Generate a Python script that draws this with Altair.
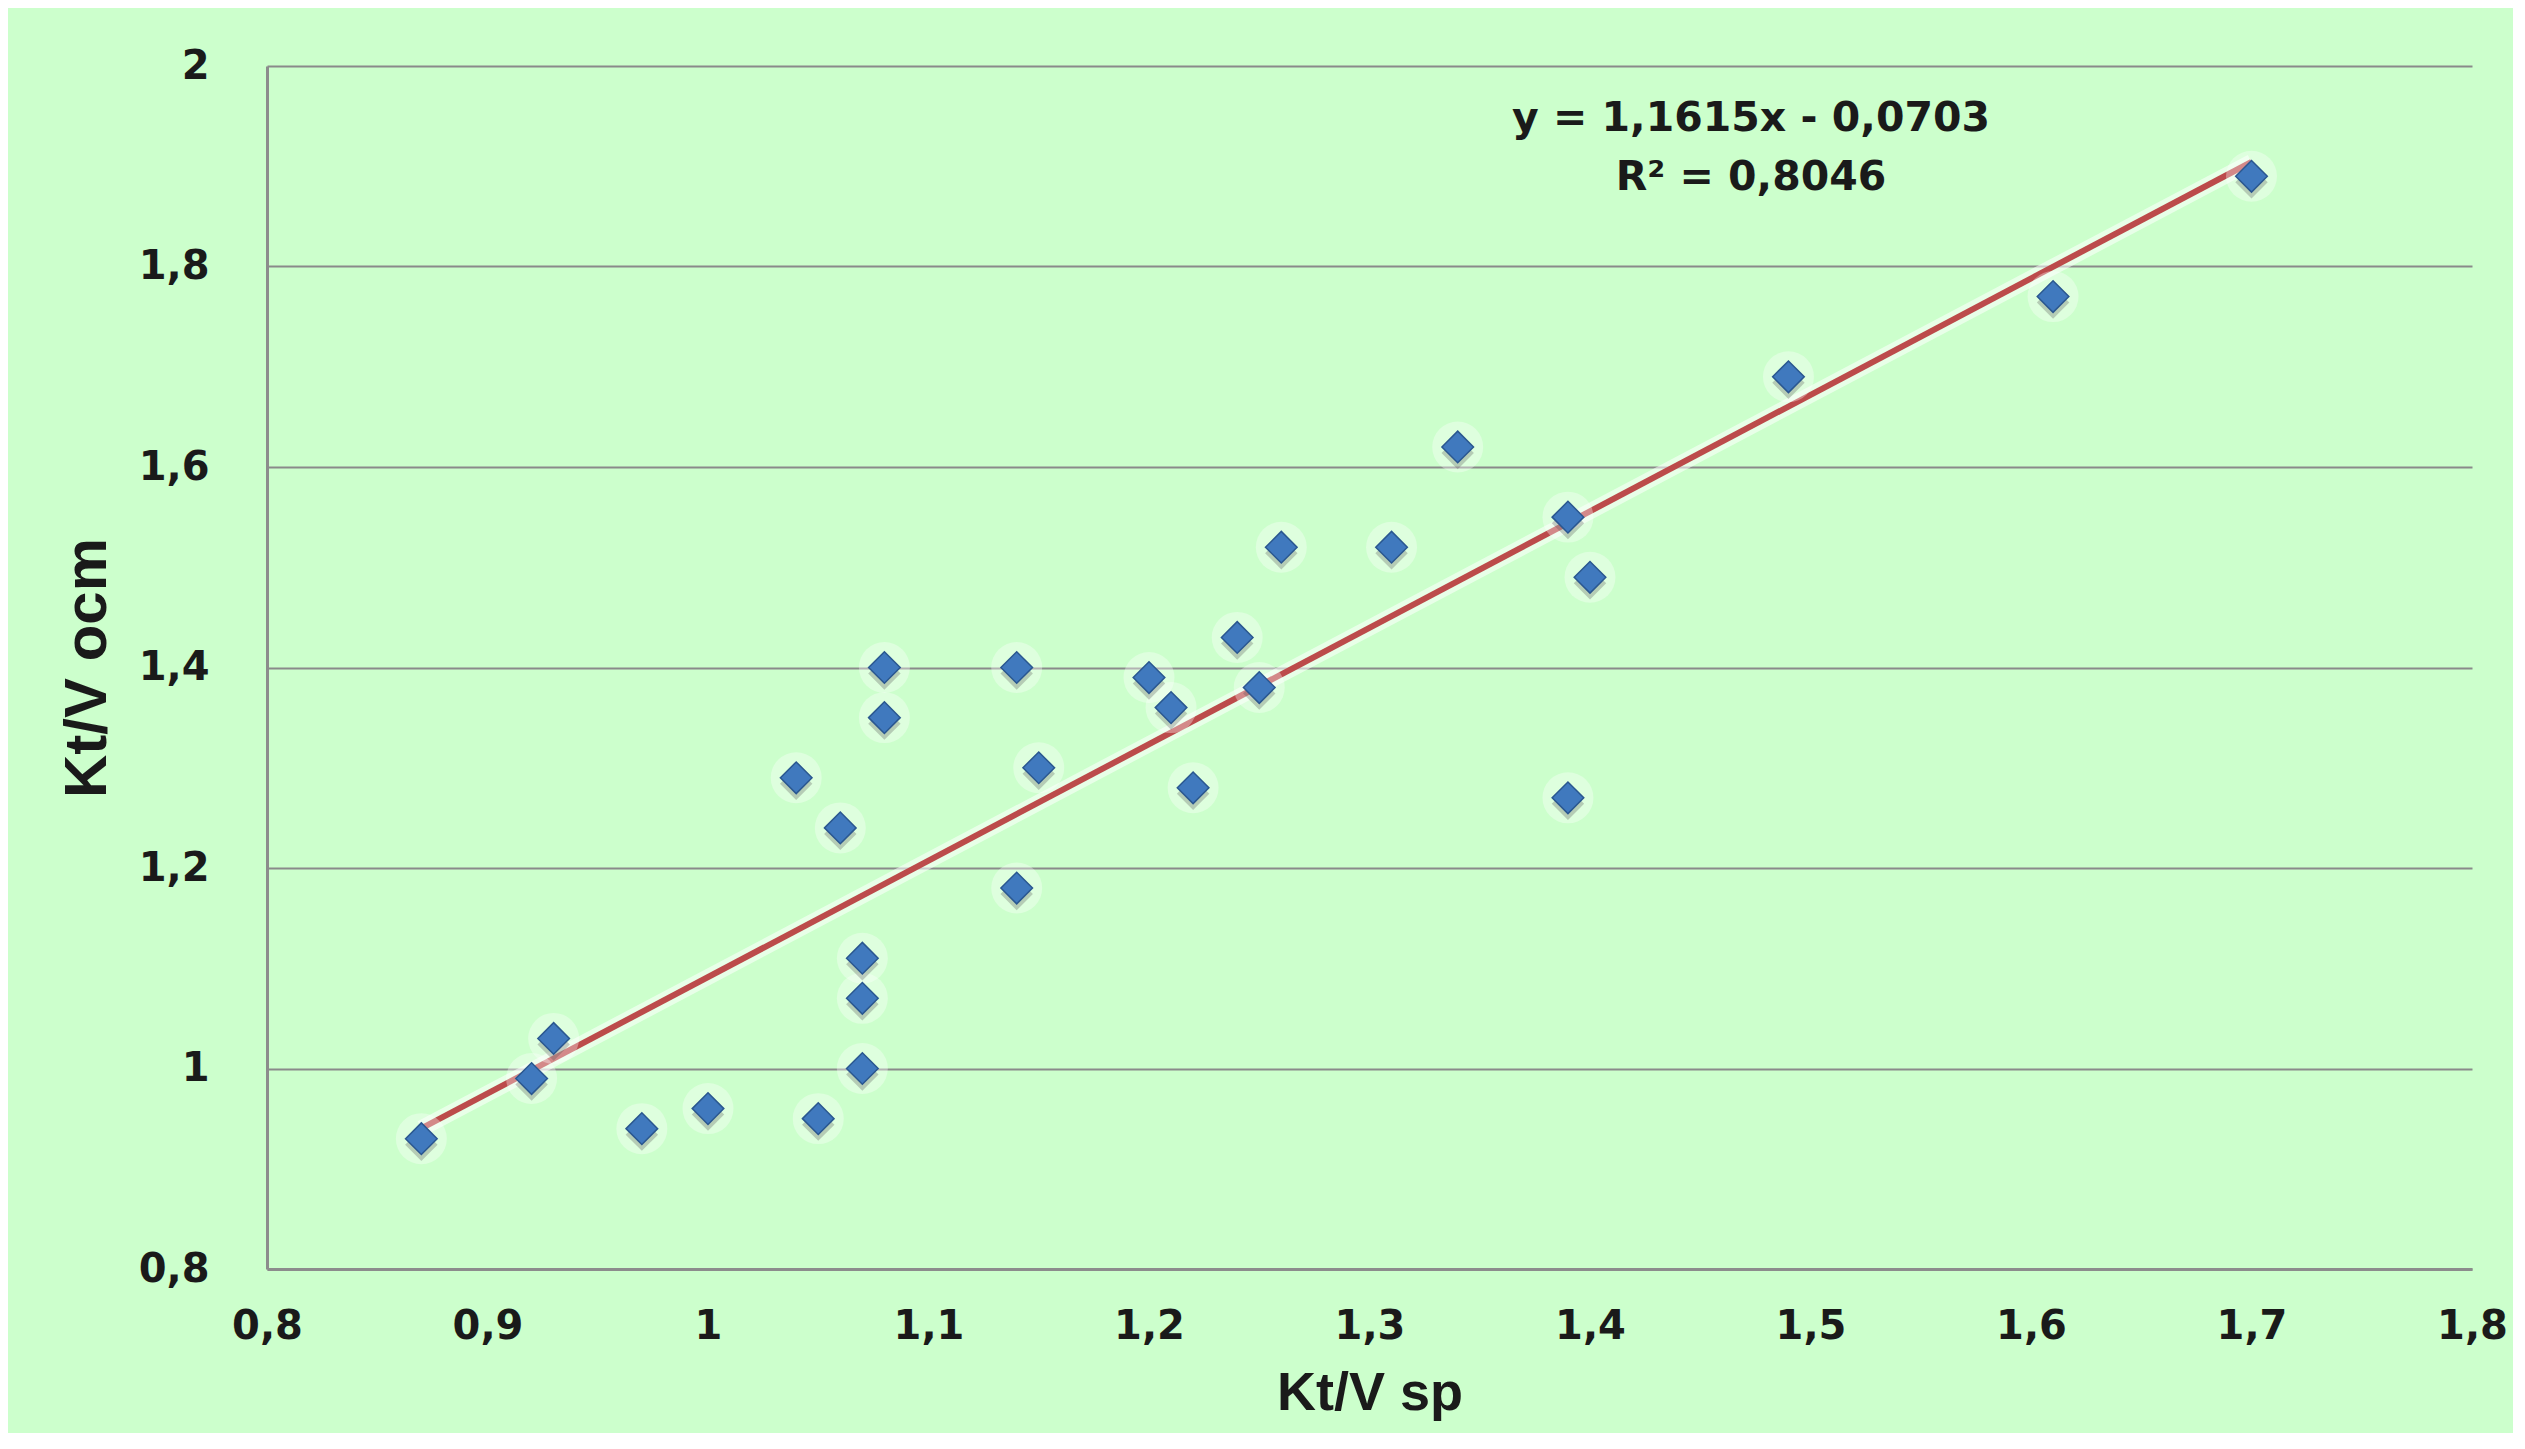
import altair as alt
import pandas as pd

# Data
x_sp = [0.87, 0.92, 0.93, 0.97, 1.00, 1.05, 1.07, 1.07, 1.07, 1.04,
        1.06, 1.08, 1.08, 1.14, 1.14, 1.15, 1.20, 1.21, 1.22, 1.24,
        1.25, 1.26, 1.31, 1.34, 1.39, 1.40, 1.39, 1.49, 1.61, 1.70]
y_ocm = [0.93, 0.99, 1.03, 0.94, 0.96, 0.95, 1.00, 1.07, 1.11, 1.29,
         1.24, 1.35, 1.40, 1.40, 1.18, 1.30, 1.39, 1.36, 1.28, 1.43,
         1.38, 1.52, 1.52, 1.62, 1.55, 1.49, 1.27, 1.69, 1.77, 1.89]

slope = 1.1615
intercept = -0.0703
eq_lines = ["y = 1,1615x - 0,0703", "R² = 0,8046"]
eq_x = [1.473, 1.473]
eq_y = [1.947, 1.888]

x_ticks = [0.8, 0.9, 1.0, 1.1, 1.2, 1.3, 1.4, 1.5, 1.6, 1.7, 1.8]
y_ticks = [0.8, 1.0, 1.2, 1.4, 1.6, 1.8, 2.0]

pts = pd.DataFrame({"x": x_sp, "y": y_ocm})
tx = [min(x_sp), max(x_sp)]
trend = pd.DataFrame({"x": tx, "y": [slope * v + intercept for v in tx]})
eq = pd.DataFrame({"x": eq_x, "y": eq_y, "t": eq_lines})

label_expr = "replace(format(datum.value, '.2~f'), '.', ',')"

xscale = alt.Scale(domain=[0.8, 1.8], nice=False, zero=False)
yscale = alt.Scale(domain=[0.8, 2.0], nice=False, zero=False)

xenc = alt.X("x:Q", scale=xscale, axis=alt.Axis(
    values=x_ticks, title="Kt/V sp", grid=False, ticks=False,
    labelExpr=label_expr, labelFont="DejaVu Sans", labelFontWeight="bold",
    labelFontSize=40, labelColor="#1a1a1a", labelPadding=37,
    labelFlush=False, labelOverlap=False,
    titleFont="Liberation Sans", titleFontWeight="bold", titleFontSize=54,
    titleColor="#1a1a1a", titlePadding=20,
    domainColor="#8c8c8c", domainWidth=3))
yenc = alt.Y("y:Q", scale=yscale, axis=alt.Axis(
    values=y_ticks, title="Kt/V ocm", grid=True, gridColor="#8a8a8a",
    gridWidth=2, ticks=False,
    labelExpr=label_expr, labelFont="DejaVu Sans", labelFontWeight="bold",
    labelFontSize=40, labelColor="#1a1a1a", labelPadding=58,
    labelFlush=False, labelOverlap=False,
    titleFont="Liberation Sans", titleFontWeight="bold", titleFontSize=60,
    titleColor="#1a1a1a", titlePadding=20,
    domainColor="#8c8c8c", domainWidth=3))

base_x = alt.X("x:Q", scale=xscale)
base_y = alt.Y("y:Q", scale=yscale)

glow = alt.Chart(trend).mark_line(color="white", strokeWidth=16, opacity=0.55).encode(x=xenc, y=yenc)
line = alt.Chart(trend).mark_line(color="#BC4B4B", strokeWidth=6).encode(x=base_x, y=base_y)

halo = alt.Chart(pts).mark_point(shape="circle", filled=True, color="white",
                                 size=2600, opacity=0.35).encode(x=base_x, y=base_y)
shadow = alt.Chart(pts).mark_point(shape="diamond", filled=True, color="#555555",
                                   size=1050, opacity=0.3, yOffset=6).encode(x=base_x, y=base_y)
markers = alt.Chart(pts).mark_point(shape="diamond", filled=True, fill="#4079BE",
                                    stroke="#2A5790", strokeWidth=1.5, size=1000,
                                    opacity=1).encode(x=base_x, y=base_y)

text = alt.Chart(eq).mark_text(font="DejaVu Sans", fontWeight="bold", fontSize=41,
                               color="#1a1a1a", align="center", baseline="middle").encode(
    x=base_x, y=base_y, text="t:N")

chart = alt.layer(glow, line, halo, shadow, markers, text).properties(
    width=2205, height=1203,
    background="#CCFFCC",
    autosize=alt.AutoSizeParams(type="none"),
    padding={"left": 259, "top": 58, "right": 41, "bottom": 164},
).configure_view(stroke=None)

chart.save("out.html", embed_options={"renderer": "svg", "actions": False})
